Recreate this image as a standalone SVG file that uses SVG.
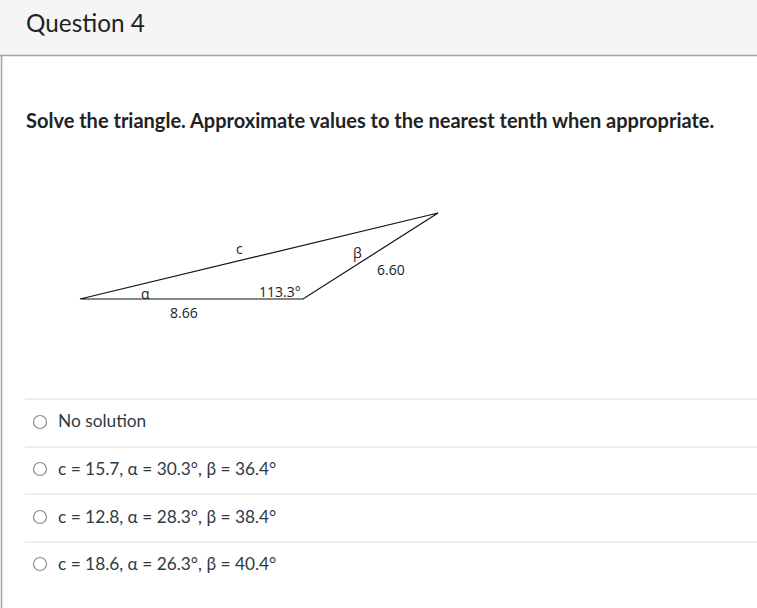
<svg xmlns="http://www.w3.org/2000/svg" width="757" height="608" viewBox="0 0 757 608">
<style>
.q{font-family:Lato,"Open Sans",sans-serif;fill:#222}
.opt{font-family:Lato,"Open Sans",sans-serif;font-size:17.3px;fill:#2d3b45}
.lbl{font-family:"Open Sans","Liberation Sans",sans-serif;font-size:14px;fill:#222}
.sep{stroke:#dddddd;stroke-width:1.2}
.radio{fill:#fff;stroke:#8a8a8a;stroke-width:1.2}
.tri{fill:none;stroke:#111;stroke-width:1.2}
</style>
<rect x="0" y="0" width="757" height="608" fill="#fff"/>
<g id="header">
<rect x="0" y="0" width="757" height="55" fill="#f5f5f5"/>
<line x1="0" y1="55.5" x2="757" y2="55.5" stroke="#a5a5a5" stroke-width="1.5"/>
<text class="q" x="26" y="32" font-size="24.3">Question 4</text>
</g>
<line x1="1.5" y1="55" x2="1.5" y2="608" stroke="#a5a5a5" stroke-width="1.5"/>
<text class="q" x="26" y="128" font-size="20" font-weight="bold">Solve the triangle. Approximate values to the nearest tenth when appropriate.</text>
<g id="triangle">
<polygon class="tri" points="80,299 303,299 438,213"/>
<text class="lbl" x="236" y="254">c</text>
<text class="lbl" x="353" y="258">β</text>
<text class="lbl" x="377" y="275">6.60</text>
<text class="lbl" x="141" y="299">α</text>
<text class="lbl" x="259" y="297">113.3°</text>
<text class="lbl" x="170" y="318">8.66</text>
</g>
<g id="options">
<line class="sep" x1="25" y1="399" x2="757" y2="399"/>
<line class="sep" x1="25" y1="447" x2="757" y2="447"/>
<line class="sep" x1="25" y1="494" x2="757" y2="494"/>
<line class="sep" x1="25" y1="542" x2="757" y2="542"/>
<g id="opt1"><circle class="radio" cx="40" cy="422" r="6.5"/><text class="opt" x="58" y="427">No solution</text></g>
<g id="opt2"><circle class="radio" cx="40" cy="469" r="6.5"/><text class="opt" x="58" y="475">c = 15.7, α = 30.3°, β = 36.4°</text></g>
<g id="opt3"><circle class="radio" cx="40" cy="517" r="6.5"/><text class="opt" x="58" y="523">c = 12.8, α = 28.3°, β = 38.4°</text></g>
<g id="opt4"><circle class="radio" cx="40" cy="564" r="6.5"/><text class="opt" x="58" y="570">c = 18.6, α = 26.3°, β = 40.4°</text></g>
</g>
</svg>
